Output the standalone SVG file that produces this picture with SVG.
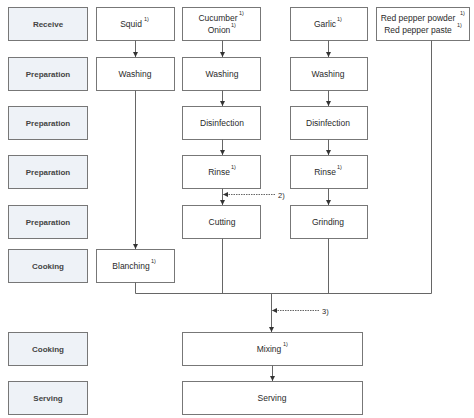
<svg xmlns="http://www.w3.org/2000/svg" width="474" height="418" viewBox="0 0 474 418">
<defs>
<marker id="ah" viewBox="0 0 6 6" refX="6" refY="3" markerWidth="5" markerHeight="5" orient="auto" markerUnits="userSpaceOnUse">
<path d="M0,0 L6,3 L0,6 z" fill="#333"/>
</marker>
</defs>
<style>
text{font-family:"Liberation Sans",Arial,sans-serif;font-size:8.5px;fill:#2a2a2a;text-anchor:middle;dominant-baseline:central}
.sup{font-size:5.5px;dominant-baseline:auto;text-anchor:start}
.stage rect{fill:#eef2f7;stroke:#777;stroke-width:1}
.stage text{font-weight:bold;fill:#444;font-size:8px}
.node rect{fill:#fff;stroke:#777;stroke-width:1}
.conn line,.conn polyline{stroke:#666;stroke-width:1;fill:none}
.dash{stroke:#666;stroke-width:0.8;stroke-dasharray:1.5,1}
.lbl{font-size:7.5px;text-anchor:start}
</style>
<rect width="474" height="418" fill="#fff"/>
<g id="stages">
<g id="s1" class="stage"><rect x="8.5" y="7.5" width="79" height="33"/><text x="48" y="24">Receive</text></g>
<g id="s2" class="stage"><rect x="8.5" y="57.5" width="79" height="33"/><text x="48" y="74">Preparation</text></g>
<g id="s3" class="stage"><rect x="8.5" y="106.5" width="79" height="33"/><text x="48" y="123">Preparation</text></g>
<g id="s4" class="stage"><rect x="8.5" y="155.5" width="79" height="33"/><text x="48" y="172">Preparation</text></g>
<g id="s5" class="stage"><rect x="8.5" y="205.5" width="79" height="33"/><text x="48" y="222">Preparation</text></g>
<g id="s6" class="stage"><rect x="8.5" y="249.5" width="79" height="33"/><text x="48" y="266">Cooking</text></g>
<g id="s7" class="stage"><rect x="8.5" y="332.5" width="79" height="33"/><text x="48" y="349">Cooking</text></g>
<g id="s8" class="stage"><rect x="8.5" y="381.5" width="79" height="33"/><text x="48" y="398">Serving</text></g>
</g>
<g id="squid" class="node"><rect x="96.5" y="7.5" width="78" height="33"/><text x="131" y="24">Squid</text><text class="sup" x="144" y="21">1)</text></g>
<g id="washing1" class="node"><rect x="96.5" y="57.5" width="78" height="33"/><text x="135" y="74">Washing</text></g>
<g id="blanching" class="node"><rect x="96.5" y="249.5" width="78" height="33"/><text x="131" y="266">Blanching</text><text class="sup" x="151" y="263">1)</text></g>
<g id="cucumber" class="node"><rect x="182.5" y="7.5" width="78" height="33"/><text x="218" y="17.5">Cucumber</text><text class="sup" x="239" y="14.5">1)</text><text x="219" y="29.5">Onion</text><text class="sup" x="231" y="26.5">1)</text></g>
<g id="washing2" class="node"><rect x="182.5" y="57.5" width="78" height="33"/><text x="222" y="74">Washing</text></g>
<g id="disinf2" class="node"><rect x="182.5" y="106.5" width="78" height="33"/><text x="222" y="123">Disinfection</text></g>
<g id="rinse2" class="node"><rect x="182.5" y="155.5" width="78" height="33"/><text x="219" y="172">Rinse</text><text class="sup" x="231" y="169">1)</text></g>
<g id="cutting" class="node"><rect x="182.5" y="205.5" width="78" height="33"/><text x="222" y="222">Cutting</text></g>
<g id="garlic" class="node"><rect x="290.5" y="7.5" width="77" height="33"/><text x="325" y="24">Garlic</text><text class="sup" x="337" y="21">1)</text></g>
<g id="washing3" class="node"><rect x="290.5" y="57.5" width="77" height="33"/><text x="328" y="74">Washing</text></g>
<g id="disinf3" class="node"><rect x="290.5" y="106.5" width="77" height="33"/><text x="328" y="123">Disinfection</text></g>
<g id="rinse3" class="node"><rect x="290.5" y="155.5" width="77" height="33"/><text x="325" y="172">Rinse</text><text class="sup" x="337" y="169">1)</text></g>
<g id="grinding" class="node"><rect x="290.5" y="205.5" width="77" height="33"/><text x="328" y="222">Grinding</text></g>
<g id="redpepper" class="node"><rect x="376.5" y="7.5" width="93" height="33"/><text x="418" y="17.5">Red pepper  powder</text><text class="sup" x="460" y="14.5">1)</text><text x="418" y="29.5">Red pepper  paste</text><text class="sup" x="457" y="26.5">1)</text></g>
<g id="mixing" class="node"><rect x="182.5" y="332.5" width="180" height="33"/><text x="269" y="349">Mixing</text><text class="sup" x="283" y="346">1)</text></g>
<g id="serving" class="node"><rect x="182.5" y="381.5" width="180" height="33"/><text x="272" y="398">Serving</text></g>
<g id="connectors" class="conn">
<line x1="135.5" y1="40.5" x2="135.5" y2="57" marker-end="url(#ah)"/>
<line x1="135.5" y1="90.5" x2="135.5" y2="249" marker-end="url(#ah)"/>
<line x1="222.5" y1="40.5" x2="222.5" y2="57" marker-end="url(#ah)"/>
<line x1="222.5" y1="90.5" x2="222.5" y2="106" marker-end="url(#ah)"/>
<line x1="222.5" y1="139.5" x2="222.5" y2="155" marker-end="url(#ah)"/>
<line x1="222.5" y1="188.5" x2="222.5" y2="205" marker-end="url(#ah)"/>
<line x1="328.5" y1="40.5" x2="328.5" y2="57" marker-end="url(#ah)"/>
<line x1="328.5" y1="90.5" x2="328.5" y2="106" marker-end="url(#ah)"/>
<line x1="328.5" y1="139.5" x2="328.5" y2="155" marker-end="url(#ah)"/>
<line x1="328.5" y1="188.5" x2="328.5" y2="205" marker-end="url(#ah)"/>
<polyline points="135.5,282.5 135.5,293.5 431.5,293.5 431.5,40.5"/>
<line x1="222.5" y1="238.5" x2="222.5" y2="293.5"/>
<line x1="328.5" y1="238.5" x2="328.5" y2="293.5"/>
<line x1="271.5" y1="293.5" x2="271.5" y2="332" marker-end="url(#ah)"/>
<line x1="272.5" y1="365.5" x2="272.5" y2="381" marker-end="url(#ah)"/>
<line class="dash" x1="275" y1="194.5" x2="223" y2="194.5" marker-end="url(#ah)"/>
<text class="lbl" x="278" y="195">2)</text>
<line class="dash" x1="319" y1="310.5" x2="272" y2="310.5" marker-end="url(#ah)"/>
<text class="lbl" x="322" y="311">3)</text>
</g>
</svg>
